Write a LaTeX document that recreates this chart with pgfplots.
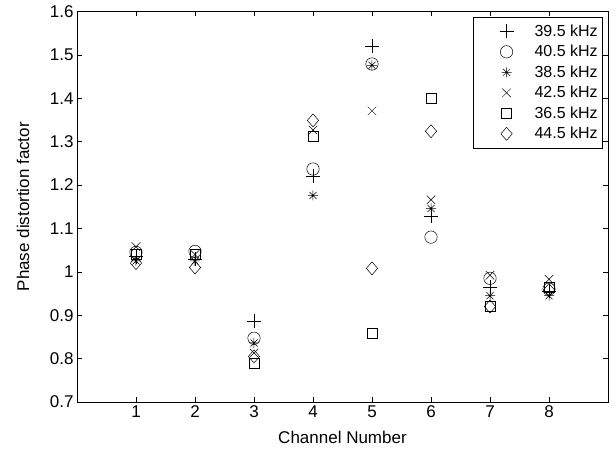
\documentclass[border=0pt]{standalone}
\usepackage{fontspec}
\setmainfont{Liberation Sans}
\usepackage{pgfplots}
\pgfplotsset{compat=1.18}

% MATLAB style asterisk: plus and cross together
\pgfdeclareplotmark{matstar}{%
  \pgfpathmoveto{\pgfqpoint{-\pgfplotmarksize}{0pt}}%
  \pgfpathlineto{\pgfqpoint{\pgfplotmarksize}{0pt}}%
  \pgfpathmoveto{\pgfqpoint{0pt}{-\pgfplotmarksize}}%
  \pgfpathlineto{\pgfqpoint{0pt}{\pgfplotmarksize}}%
  \pgfpathmoveto{\pgfqpoint{-.7071\pgfplotmarksize}{-.7071\pgfplotmarksize}}%
  \pgfpathlineto{\pgfqpoint{.7071\pgfplotmarksize}{.7071\pgfplotmarksize}}%
  \pgfpathmoveto{\pgfqpoint{-.7071\pgfplotmarksize}{.7071\pgfplotmarksize}}%
  \pgfpathlineto{\pgfqpoint{.7071\pgfplotmarksize}{-.7071\pgfplotmarksize}}%
  \pgfusepathqstroke}

% diamond nearly as wide as it is tall (MATLAB 'd')
\pgfdeclareplotmark{matdiamond}{%
  \pgfpathmoveto{\pgfqpoint{0pt}{\pgfplotmarksize}}%
  \pgfpathlineto{\pgfqpoint{.87\pgfplotmarksize}{0pt}}%
  \pgfpathlineto{\pgfqpoint{0pt}{-\pgfplotmarksize}}%
  \pgfpathlineto{\pgfqpoint{-.87\pgfplotmarksize}{0pt}}%
  \pgfpathclose
  \pgfusepathqstroke}

\newcommand{\fs}{\fontsize{17}{20}\selectfont}
\newcommand{\fl}{\fontsize{16}{19}\selectfont}

% legend entry: empty room left and right of the mark
\pgfplotsset{
  marklegend/.style={legend image code/.code={%
        \path[draw=none, fill=none] (0pt,-7pt) rectangle (56pt,7pt);
        \draw[mark repeat=2, mark phase=2, ##1]
        plot coordinates {(0pt,0pt) (30pt,0pt) (56pt,0pt)};}},
}

\begin{document}
\begin{tikzpicture}
\begin{axis}[
    scale only axis,
    width=531pt,
    height=390.5pt,
    xmin=0, xmax=9,
    ymin=0.7, ymax=1.6,
    xtick={1,2,3,4,5,6,7,8},
    ytick={0.7,0.8,0.9,1.0,1.1,1.2,1.3,1.4,1.5,1.6},
    tick align=inside,
    major tick length=5pt,
    axis line style={line width=0.6pt},
    tick style={line width=0.6pt, black},
    tick label style={font=\fs},
    /pgf/number format/assume math mode=true,
    xlabel={Channel Number},
    ylabel={Phase distortion factor},
    label style={font=\fs},
    x label style={at={(axis description cs:0.5,-0.092)}, anchor=center},
    y label style={at={(axis description cs:-0.1017,0.5)}, anchor=center},
    every axis plot/.append style={only marks, black, line width=0.5pt, marklegend},
    legend style={at={(1,1)}, anchor=north east, xshift=-5pt, yshift=-5.5pt,
        draw=black, line width=0.6pt, font=\fl, row sep=3.4pt, inner ysep=5.5pt},
    legend cell align=left,
]

% 39.5 kHz
\addplot[mark=+, mark size=7pt] coordinates {
 (1,1.035) (2,1.030) (3,0.886) (4,1.220) (5,1.520) (6,1.128) (7,0.965) (8,0.955)};
% 40.5 kHz
\addplot[mark=o, mark size=6.2pt] coordinates {
 (1,1.045) (2,1.047) (3,0.847) (4,1.237) (5,1.479) (6,1.080) (7,0.985) (8,0.960)};
% 38.5 kHz
\addplot[mark=matstar, mark size=5pt] coordinates {
 (1,1.025) (2,1.025) (3,0.836) (4,1.176) (5,1.476) (6,1.146) (7,0.945) (8,0.945)};
% 42.5 kHz
\addplot[mark=x, mark size=6pt] coordinates {
 (1,1.058) (2,1.040) (3,0.813) (4,1.327) (5,1.371) (6,1.166) (7,0.992) (8,0.983)};
% 36.5 kHz
\addplot[mark=square, mark size=5pt] coordinates {
 (1,1.040) (2,1.040) (3,0.790) (4,1.313) (5,0.858) (6,1.399) (7,0.920) (8,0.965)};
% 44.5 kHz
\addplot[mark=matdiamond, mark size=6.5pt] coordinates {
 (1,1.020) (2,1.010) (3,0.805) (4,1.349) (5,1.008) (6,1.324) (7,0.920) (8,0.958)};

\legend{39.5 kHz, 40.5 kHz, 38.5 kHz, 42.5 kHz, 36.5 kHz, 44.5 kHz}
\end{axis}
\pgfresetboundingbox
\path ([shift={(-77pt,-47pt)}]current axis.south west) rectangle ([shift={(8pt,11.5pt)}]current axis.north east);
\end{tikzpicture}
\end{document}
